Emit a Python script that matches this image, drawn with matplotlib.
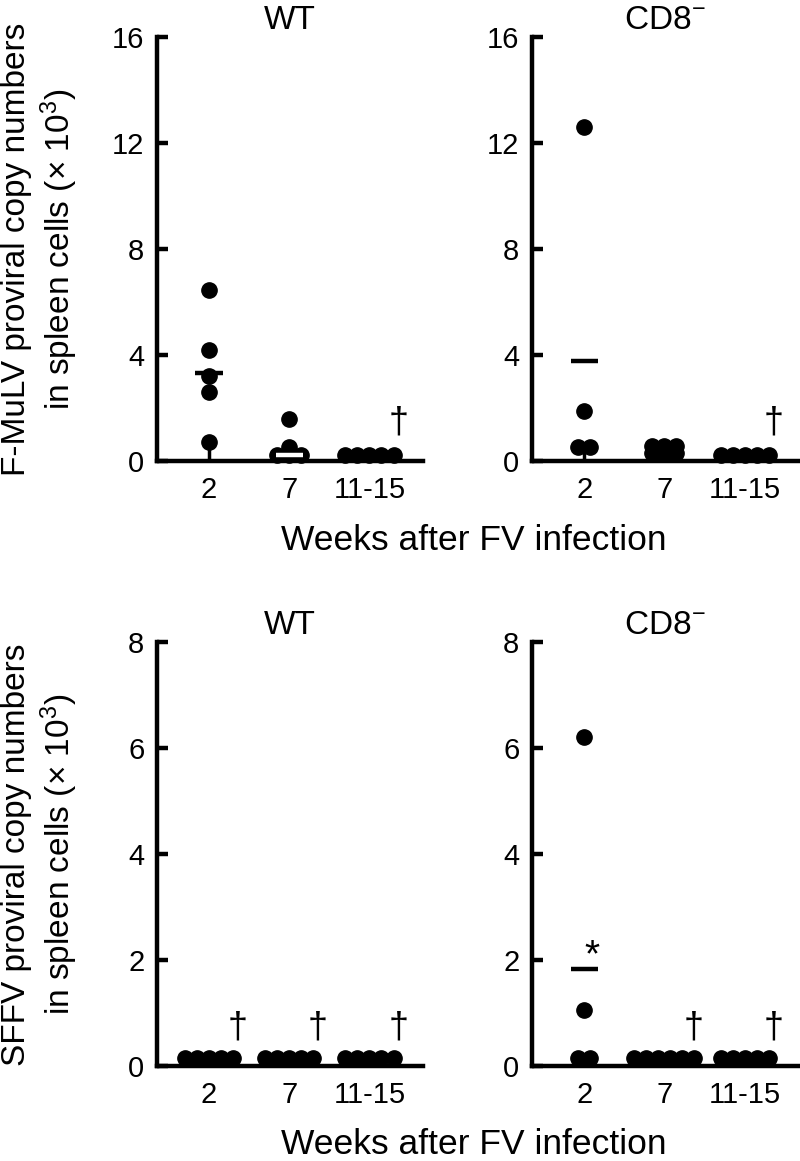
import numpy as np
import matplotlib
matplotlib.use('Agg')
import matplotlib.pyplot as plt

plt.rcParams['font.family'] = ['Liberation Sans', 'DejaVu Sans']
plt.rcParams['mathtext.fontset'] = 'custom'
plt.rcParams['mathtext.rm'] = 'Liberation Sans'
plt.rcParams['mathtext.it'] = 'Liberation Sans'

# weeks after infection
groups = ['2', '7', '11-15']

# F-MuLV proviral copies (x 10^3)
fmulv_wt = [[6.45, 4.2, 3.2, 2.6, 0.7],
            [1.57, 0.54, 0.22, 0.22, 0.22],
            [0.22, 0.22, 0.22, 0.22, 0.22]]
fmulv_cd8 = [[12.6, 1.9, 0.54, 0.54],
             [0.55, 0.55, 0.55, 0.3, 0.3, 0.3],
             [0.22, 0.22, 0.22, 0.22, 0.22]]
fmulv_wt_mean = [3.33, 0.22, None]
fmulv_cd8_mean = [3.77, None, None]

# SFFV proviral copies (x 10^3)
sffv_wt = [[0.15] * 5, [0.15] * 5, [0.15] * 5]
sffv_cd8 = [[6.2, 1.05, 0.15, 0.15],
            [0.15] * 6,
            [0.15] * 5]
sffv_wt_mean = [None, None, None]
sffv_cd8_mean = [1.83, None, None]

# marks: dagger = all dead, star = significant
fmulv_wt_dagger = [False, False, True]
fmulv_cd8_dagger = [False, False, True]
sffv_wt_dagger = [True, True, True]
sffv_cd8_dagger = [False, True, True]
sffv_cd8_star = [True, False, False]

xlabel = 'Weeks after FV infection'
ylabel_top = 'F-MuLV proviral copy numbers\nin spleen cells ($\\times$ 10$^3$)'
ylabel_bot = 'SFFV proviral copy numbers\nin spleen cells ($\\times$ 10$^3$)'


def swarm(vals, spacing=0.15):
    vals = np.asarray(vals)
    xs = np.zeros(len(vals))
    for v in np.unique(vals):
        idx = np.where(vals == v)[0]
        xs[idx] = (np.arange(len(idx)) - (len(idx) - 1) / 2) * spacing
    return xs


def panel(ax, data, means, daggers, ymax, step, title, stars=None,
          stem=False, mean_white=None):
    for i, vals in enumerate(data):
        x0 = i + 1
        xs = x0 + swarm(vals)
        if stem and i == 0:
            ax.vlines(x0, 0, min(vals), color='black', lw=2.5, zorder=2)
        ax.plot(xs, vals, 'o', color='black', ms=11, zorder=3, clip_on=False)
        if means[i] is not None:
            c = 'white' if (mean_white is not None and mean_white[i]) else 'black'
            ax.hlines(means[i], x0 - 0.17, x0 + 0.17, color=c, lw=3.2, zorder=4)
        if daggers[i]:
            ax.text(x0 + 0.36, ymax * 0.09, '\u2020', ha='center', va='center',
                    fontsize=26)
        if stars is not None and stars[i]:
            ax.text(x0 + 0.1, means[i] + ymax * 0.03, '*', ha='center',
                    va='center', fontsize=28)
    ax.set_xlim(0.35, 3.67)
    ax.set_ylim(0, ymax)
    ax.set_yticks(np.arange(0, ymax + 0.1, step))
    ax.set_xticks([1, 2, 3])
    ax.set_xticklabels(groups)
    for s in ['top', 'right']:
        ax.spines[s].set_visible(False)
    for s in ['left', 'bottom']:
        ax.spines[s].set_linewidth(3.2)
    ax.tick_params(axis='y', direction='in', length=8, width=3.2,
                   labelsize=21, pad=9)
    ax.tick_params(axis='x', length=0, labelsize=21, pad=11)
    ax.set_title(title, fontsize=24, pad=6)


fig = plt.figure(figsize=(8, 11.61), dpi=100)
ax1 = fig.add_axes([0.196, 0.603, 0.333, 0.365])
ax2 = fig.add_axes([0.665, 0.603, 0.333, 0.365])
ax3 = fig.add_axes([0.196, 0.082, 0.333, 0.365])
ax4 = fig.add_axes([0.665, 0.082, 0.333, 0.365])

panel(ax1, fmulv_wt, fmulv_wt_mean, fmulv_wt_dagger, 16, 4, 'WT',
      stem=True, mean_white=[False, True, False])
panel(ax2, fmulv_cd8, fmulv_cd8_mean, fmulv_cd8_dagger, 16, 4, 'CD8$^{-}$',
      stem=True)
panel(ax3, sffv_wt, sffv_wt_mean, sffv_wt_dagger, 8, 2, 'WT')
panel(ax4, sffv_cd8, sffv_cd8_mean, sffv_cd8_dagger, 8, 2, 'CD8$^{-}$',
      stars=sffv_cd8_star)

fig.text(0.592, 0.526, xlabel, ha='center', va='baseline', fontsize=25.5)
fig.text(0.592, 0.006, xlabel, ha='center', va='baseline', fontsize=25.5)
fig.text(0.051, 0.785, ylabel_top, ha='center', va='center', rotation=90,
         fontsize=24, multialignment='center')
fig.text(0.051, 0.264, ylabel_bot, ha='center', va='center', rotation=90,
         fontsize=24, multialignment='center')

fig.savefig('out.png', dpi=100)
